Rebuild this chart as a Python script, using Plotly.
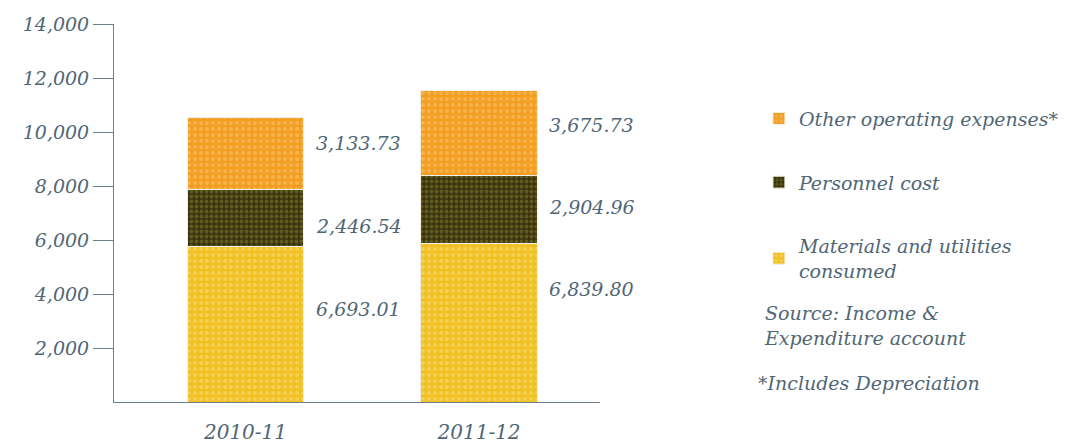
import plotly.graph_objects as go

# ---- data ----
categories = ["2010-11", "2011-12"]
materials = [6693.01, 6839.80]
personnel = [2446.54, 2904.96]
other = [3133.73, 3675.73]
series_names = ["Materials and utilities<br>consumed", "Personnel cost", "Other operating expenses*"]
tick_values = [2000, 4000, 6000, 8000, 10000, 12000, 14000]
tick_labels = ["2,000", "4,000", "6,000", "8,000", "10,000", "12,000", "14,000"]
AXIS_MAX = 14000
# the original artwork draws bars at ~86% of the axis scale
DRAW_SCALE = 0.86

TXT = "#4f6676"
FONT = "DejaVu Serif"

fig = go.Figure()
styles = [
    dict(bg="#f0c024", fg="#f9df80", size=6, sol=0.35, rank=3),
    dict(bg="#38330e", fg="#8a8232", size=5, sol=0.45, rank=2),
    dict(bg="#f29e22", fg="#fbc872", size=6, sol=0.35, rank=1),
]
for name, vals, st in zip(series_names, [materials, personnel, other], styles):
    fig.add_trace(go.Bar(
        x=categories, y=vals, name=name, legendgroup=name, legendrank=st["rank"],
        width=0.5,
        marker=dict(color=st["bg"], line=dict(width=1, color="#f3efe6"),
                    pattern=dict(shape=".", fgcolor=st["fg"], bgcolor=st["bg"],
                                 size=st["size"], solidity=st["sol"])),
    ))

# value labels to the right of each segment
label_yshift = [[15, -8, 10], [34, 2, 8]]
for i, cat in enumerate(categories):
    base = 0
    for j, vals in enumerate([materials, personnel, other]):
        v = vals[i]
        fig.add_annotation(x=i + 0.25, y=base + v / 2, xref="x", yref="y",
                           text=f"{v:,.2f}", showarrow=False, xanchor="left",
                           xshift=10, yshift=label_yshift[i][j],
                           font=dict(size=19, color=TXT, family=FONT, style="italic"))
        base += v

fig.add_annotation(x=(762 - 114) / 486, y=(402 - 300) / 378, xref="paper", yref="paper",
                   text="Source: Income &<br>Expenditure account", showarrow=False,
                   xanchor="left", yanchor="top", align="left",
                   font=dict(size=19, color=TXT, family=FONT, style="italic"))
fig.add_annotation(x=(756 - 114) / 486, y=(402 - 383) / 378, xref="paper", yref="paper",
                   text="*Includes Depreciation", showarrow=False,
                   xanchor="left", yanchor="middle", align="left",
                   font=dict(size=19, color=TXT, family=FONT, style="italic"))

fig.update_layout(
    width=1065, height=447,
    margin=dict(l=114, r=465, t=24, b=45, autoexpand=False),
    barmode="stack",
    paper_bgcolor="white", plot_bgcolor="white",
    font=dict(family=FONT, color=TXT, size=19, style="italic"),
    showlegend=True,
    legend=dict(x=1.327, y=0.80, xanchor="left", yanchor="top",
                traceorder="grouped", tracegroupgap=36,
                font=dict(size=19, color=TXT, family=FONT, style="italic"),
                bgcolor="rgba(0,0,0,0)"),
)
fig.update_xaxes(type="category", range=[-0.563, 1.518], showline=True,
                 linecolor="#6a8090", linewidth=1, automargin=False,
                 ticks="", showgrid=False, zeroline=False, ticklabelstandoff=12,
                 tickfont=dict(size=20, color=TXT, family=FONT, style="italic"))
fig.update_yaxes(range=[0, AXIS_MAX / DRAW_SCALE], automargin=False,
                 tickvals=[v / DRAW_SCALE for v in tick_values], ticktext=tick_labels,
                 showline=True, linecolor="#6a8090", linewidth=1,
                 ticks="outside", ticklen=20, tickcolor="#6a8090", tickwidth=1,
                 showgrid=False, zeroline=False,
                 tickfont=dict(size=19, color=TXT, family=FONT, style="italic"))

fig.write_html("out.html", config={"displayModeBar": False},
               post_script="document.body.style.margin='0';document.body.style.padding='0';")
